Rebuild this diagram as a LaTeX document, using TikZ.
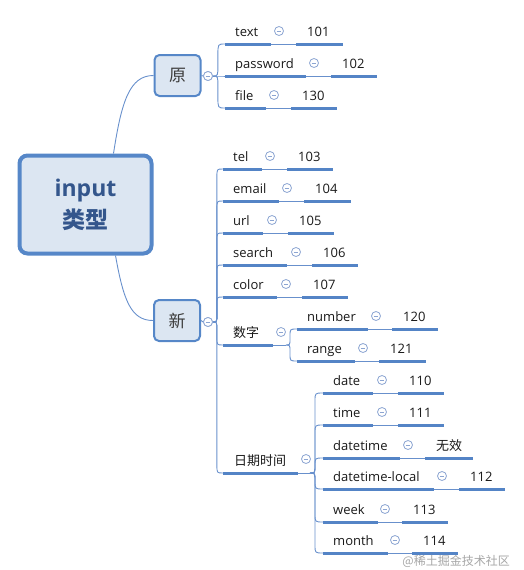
\documentclass[tikz,border=0pt]{standalone}
\usepackage{fontspec}
\setmainfont{Open Sans}
\newfontfamily\cjk{Noto Sans CJK SC}
\usetikzlibrary{calc}
\definecolor{thickc}{RGB}{84,132,198}
\definecolor{thinc}{RGB}{104,144,204}
\definecolor{rootfill}{RGB}{220,230,242}
\definecolor{rootdraw}{RGB}{86,135,200}
\definecolor{roottext}{RGB}{52,86,140}
\definecolor{foldc}{RGB}{140,165,210}
\definecolor{txtc}{RGB}{25,25,25}
\tikzset{
  uline/.style={draw=thickc, line width=3pt},
  thinl/.style={draw=thinc, line width=0.9pt},
  conn/.style={draw=thinc, line width=0.9pt},
  lbl/.style={font=\fontsize{13}{13}\selectfont, text=txtc, inner sep=0pt},
  rootbox/.style={draw=rootdraw, fill=rootfill, line width=4pt, rounded corners=8pt,
    minimum width=132pt, minimum height=98pt, align=center, text=roottext,
    font=\fontsize{23}{32}\selectfont\bfseries},
  subbox/.style={draw=rootdraw, fill=rootfill, line width=2pt, rounded corners=5pt,
    minimum width=46pt, minimum height=41pt, text=txtc!85,
    font=\fontsize{17}{17}\selectfont\cjk},
  fold/.style={circle, draw=foldc, fill=white, line width=0.8pt, minimum size=9pt, inner sep=0pt,
    path picture={\draw[foldc, line width=0.8pt]
      ([xshift=-2.3pt]path picture bounding box.center) -- ([xshift=2.3pt]path picture bounding box.center);}},
}
% leaf pair: id, y, xstart, xend1, xstart2, xend2, foldx, label, value
\newcommand\LP[9]{%
  \coordinate (#1s) at (#3,#2);
  \coordinate (#1a) at (#4,#2);
  \coordinate (#1b) at (#5,#2);
  \coordinate (#1e) at (#6,#2);
  \draw[uline] (#1s) -- (#1a);
  \draw[thinl] (#1a) -- (#1b);
  \draw[uline] (#1b) -- (#1e);
  \node[lbl, anchor=base west] (#1t) at ({#3+10},{#2-8}) {#8};
  \node[lbl, anchor=base west] (#1v) at ({#5+11},{#2-8}) {#9};
  \node[fold] (#1c) at (#7,{#2-13}) {};
}
% branch connector: [max bend], from, spine offset, to
\newcommand\BR[4][6]{%
  \draw[conn] let \p1=(#2), \p2=(#4),
    \n1={sign(\y2-\y1)*min(#1,abs(\y2-\y1)/2)} in
    (\p1) .. controls (\x1+#3pt,\y1) .. (\x1+#3pt,\y1+\n1)
    -- (\x1+#3pt,\y2-\n1) .. controls (\x1+#3pt,\y2) .. (\p2);
}
\begin{document}
\begin{tikzpicture}[x=1pt,y=-1pt]
\useasboundingbox (0,0) rectangle (523,570);

% root and main branches
\node[rootbox] (root) at (85.5,204.5) {input\\{\cjk 类型}};
\node[subbox] (yuan) at (177.5,75.5) {原};
\node[subbox] (xin) at (177,320.5) {新};
\node[fold] (yuanf) at (208,76) {};
\node[fold] (xinf) at (208,322) {};

\draw[conn] ([xshift=28pt]root.north) .. controls +(8,-52) and +(-24,0) .. (yuan.west);
\draw[conn] ([xshift=30pt]root.south) .. controls +(8,45) and +(-22,0) .. (xin.west);
\draw[conn] (yuan.east) -- (yuanf.west);
\draw[conn] (xin.east) -- (xinf.west);

% 原 children
\LP{t}{44}{225}{271}{296}{343}{279}{text}{101}
\LP{p}{76}{225}{306}{331}{377}{314}{password}{102}
\LP{f}{108}{225}{266}{291}{337}{274}{file}{130}
\BR[11]{yuanf.east}{5}{ts}
\BR[11]{yuanf.east}{5}{ps}
\BR[11]{yuanf.east}{5}{fs}

% 新 children
\LP{tel}{169}{223}{262}{287}{333}{270}{tel}{103}
\LP{em}{201}{223}{279}{304}{351}{287}{email}{104}
\LP{url}{233}{223}{263}{288}{334}{272}{url}{105}
\LP{se}{265}{223}{287}{312}{358}{296}{search}{106}
\LP{co}{297}{223}{277}{302}{348}{286}{color}{107}

% 数字
\coordinate (szs) at (223,345);
\coordinate (sza) at (273,345);
\coordinate (szb) at (286,345);
\draw[uline] (szs) -- (sza);
\draw[thinl] (sza) -- (szb);
\node[lbl, anchor=base west, font=\fontsize{13}{13}\selectfont\cjk] (szt) at (233,337) {数字};
\node[fold] (szc) at (281,332) {};
\LP{num}{329}{297}{368}{392}{438}{376}{number}{120}
\LP{ran}{361}{297}{355}{379}{426}{363}{range}{121}
\BR[7]{szb}{4}{nums}
\BR[7]{szb}{4}{rans}

% 日期时间
\coordinate (rqs) at (223,473);
\coordinate (rqa) at (298,473);
\coordinate (rqb) at (310,473);
\draw[uline] (rqs) -- (rqa);
\draw[thinl] (rqa) -- (rqb);
\node[lbl, anchor=base west, font=\fontsize{13}{13}\selectfont\cjk] (rqt) at (234,465) {日期时间};
\node[fold] (rqc) at (306,459) {};
\LP{da}{393}{323}{373}{398}{444}{382}{date}{110}
\LP{ti}{425}{323}{373}{398}{444}{382}{time}{111}
\LP{dt}{458}{323}{400}{425}{473}{408}{datetime}{{\cjk 无效}}
\LP{dl}{489}{323}{434}{459}{505}{442}{datetime-local}{112}
\LP{wk}{522}{323}{378}{402}{448}{385}{week}{113}
\LP{mo}{553}{323}{388}{412}{458}{395}{month}{114}
\BR[8]{rqb}{5}{das}
\BR[8]{rqb}{5}{tis}
\BR[8]{rqb}{5}{dts}
\BR[8]{rqb}{5}{dls}
\BR[8]{rqb}{5}{wks}
\BR[8]{rqb}{5}{mos}

% 新 branch connectors
\BR[8]{xinf.east}{4}{tels}
\BR[8]{xinf.east}{4}{ems}
\BR[8]{xinf.east}{4}{urls}
\BR[8]{xinf.east}{4}{ses}
\BR[8]{xinf.east}{4}{cos}
\BR[8]{xinf.east}{4}{szs}
\BR[8]{xinf.east}{4}{rqs}
\node[fold] at (xinf) {};
\node[fold] at (yuanf) {};

% watermark
\node[anchor=base east, inner sep=0pt, text=black!35, font=\fontsize{12}{12}\selectfont\cjk] (wm) at (510,565) {@稀土掘金技术社区};
\end{tikzpicture}
\end{document}
